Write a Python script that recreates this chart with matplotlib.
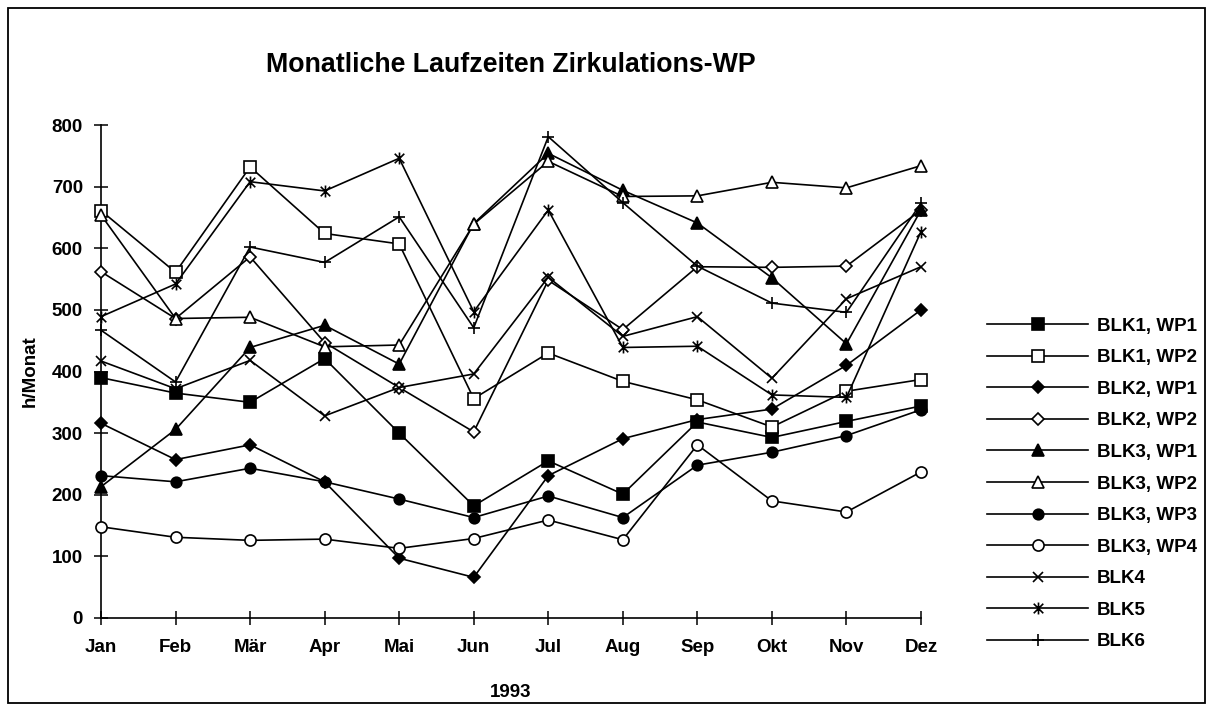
import matplotlib
matplotlib.use("Agg")
import matplotlib.pyplot as plt
from matplotlib.path import Path
from matplotlib.patches import Rectangle

plt.rcParams['font.family'] = ['Liberation Sans', 'DejaVu Sans']
plt.rcParams['font.weight'] = 'bold'
plt.rcParams['axes.labelweight'] = 'bold'

months = ['Jan', 'Feb', 'Mär', 'Apr', 'Mai', 'Jun', 'Jul', 'Aug', 'Sep', 'Okt', 'Nov', 'Dez']

blk1_wp1 = [390, 365, 350, 421, 300, 182, 255, 201, 318, 293, 319, 344]
blk1_wp2 = [661, 561, 732, 624, 607, 356, 430, 384, 354, 310, 368, 387]
blk2_wp1 = [316, 257, 281, 221, 97, 66, 231, 291, 322, 339, 410, 500]
blk2_wp2 = [562, 486, 586, 447, 374, 302, 548, 468, 570, 569, 571, 662]
blk3_wp1 = [213, 306, 439, 475, 412, 640, 754, 694, 641, 552, 445, 662]
blk3_wp2 = [654, 486, 488, 440, 443, 639, 741, 684, 685, 707, 698, 734]
blk3_wp3 = [231, 221, 243, 221, 193, 163, 198, 163, 248, 269, 296, 338]
blk3_wp4 = [148, 131, 126, 128, 113, 129, 159, 127, 281, 190, 172, 237]
blk4 = [417, 372, 418, 328, 374, 396, 553, 457, 489, 389, 518, 570]
blk5 = [489, 542, 708, 693, 746, 497, 662, 439, 441, 362, 358, 627]
blk6 = [467, 383, 602, 577, 651, 471, 781, 674, 571, 511, 496, 673]

labels = ['BLK1, WP1', 'BLK1, WP2', 'BLK2, WP1', 'BLK2, WP2', 'BLK3, WP1',
          'BLK3, WP2', 'BLK3, WP3', 'BLK3, WP4', 'BLK4', 'BLK5', 'BLK6']
series = [blk1_wp1, blk1_wp2, blk2_wp1, blk2_wp2, blk3_wp1, blk3_wp2,
          blk3_wp3, blk3_wp4, blk4, blk5, blk6]

star = Path([(-1, -1), (1, 1), (-1, 1), (1, -1), (0, -1.25), (0, 1.25)],
            [Path.MOVETO, Path.LINETO, Path.MOVETO, Path.LINETO, Path.MOVETO, Path.LINETO])

styles = [
    dict(marker='s', ms=8.3, mfc='black'),
    dict(marker='s', ms=8.8, mfc='white'),
    dict(marker='D', ms=5.8, mfc='black'),
    dict(marker='D', ms=6.0, mfc='white'),
    dict(marker='^', ms=8.0, mfc='black'),
    dict(marker='^', ms=8.3, mfc='white'),
    dict(marker='o', ms=7.6, mfc='black'),
    dict(marker='o', ms=8.0, mfc='white'),
    dict(marker='x', ms=7.4, mfc='none'),
    dict(marker=star, ms=8.6, mfc='none'),
    dict(marker='+', ms=9.0, mfc='none'),
]

W, H = 1208, 705
fig = plt.figure(figsize=(W / 100, H / 100), dpi=100)
ax = fig.add_axes([101 / W, 1 - 618 / H, (921 - 101) / W, (618 - 125) / H])

x = list(range(len(months)))
for lab, ys, st in zip(labels, series, styles):
    ax.plot(x, ys, color='black', lw=1.2, marker=st['marker'], ms=st['ms'],
            mfc=st['mfc'], mec='black', mew=1.2, label=lab, clip_on=False, zorder=3)

ax.set_xlim(0, 11)
ax.set_ylim(0, 800)
ax.set_xticks(x)
ax.set_xticklabels(months)
ax.set_yticks(range(0, 801, 100))
for s in ['top', 'right']:
    ax.spines[s].set_visible(False)
for s in ['left', 'bottom']:
    ax.spines[s].set_linewidth(1.2)
ax.tick_params(axis='both', direction='inout', length=10, width=1.1, labelsize=13.5)
ax.tick_params(axis='y', pad=8)
ax.tick_params(axis='x', pad=10)

ax.set_xlabel('1993', fontsize=13.5, fontweight='bold', labelpad=20)
ax.set_ylabel('h/Monat', fontsize=13.5, fontweight='bold', labelpad=9)
ax.set_title('Monatliche Laufzeiten Zirkulations-WP', fontsize=19.3, fontweight='bold', pad=38)

fig.legend(loc='center left', bbox_to_anchor=(987 / W, 1 - 484 / H), frameon=False,
           fontsize=13.5, handlelength=5.4, handletextpad=0.45, labelspacing=0.77,
           borderpad=0, borderaxespad=0, numpoints=1)

fig.patches.append(Rectangle((8 / W, 2 / H), (1205 - 8) / W, (697 - 2) / H,
                             transform=fig.transFigure, fill=False, lw=1.3,
                             edgecolor='black'))

fig.savefig('out.png', dpi=100)
